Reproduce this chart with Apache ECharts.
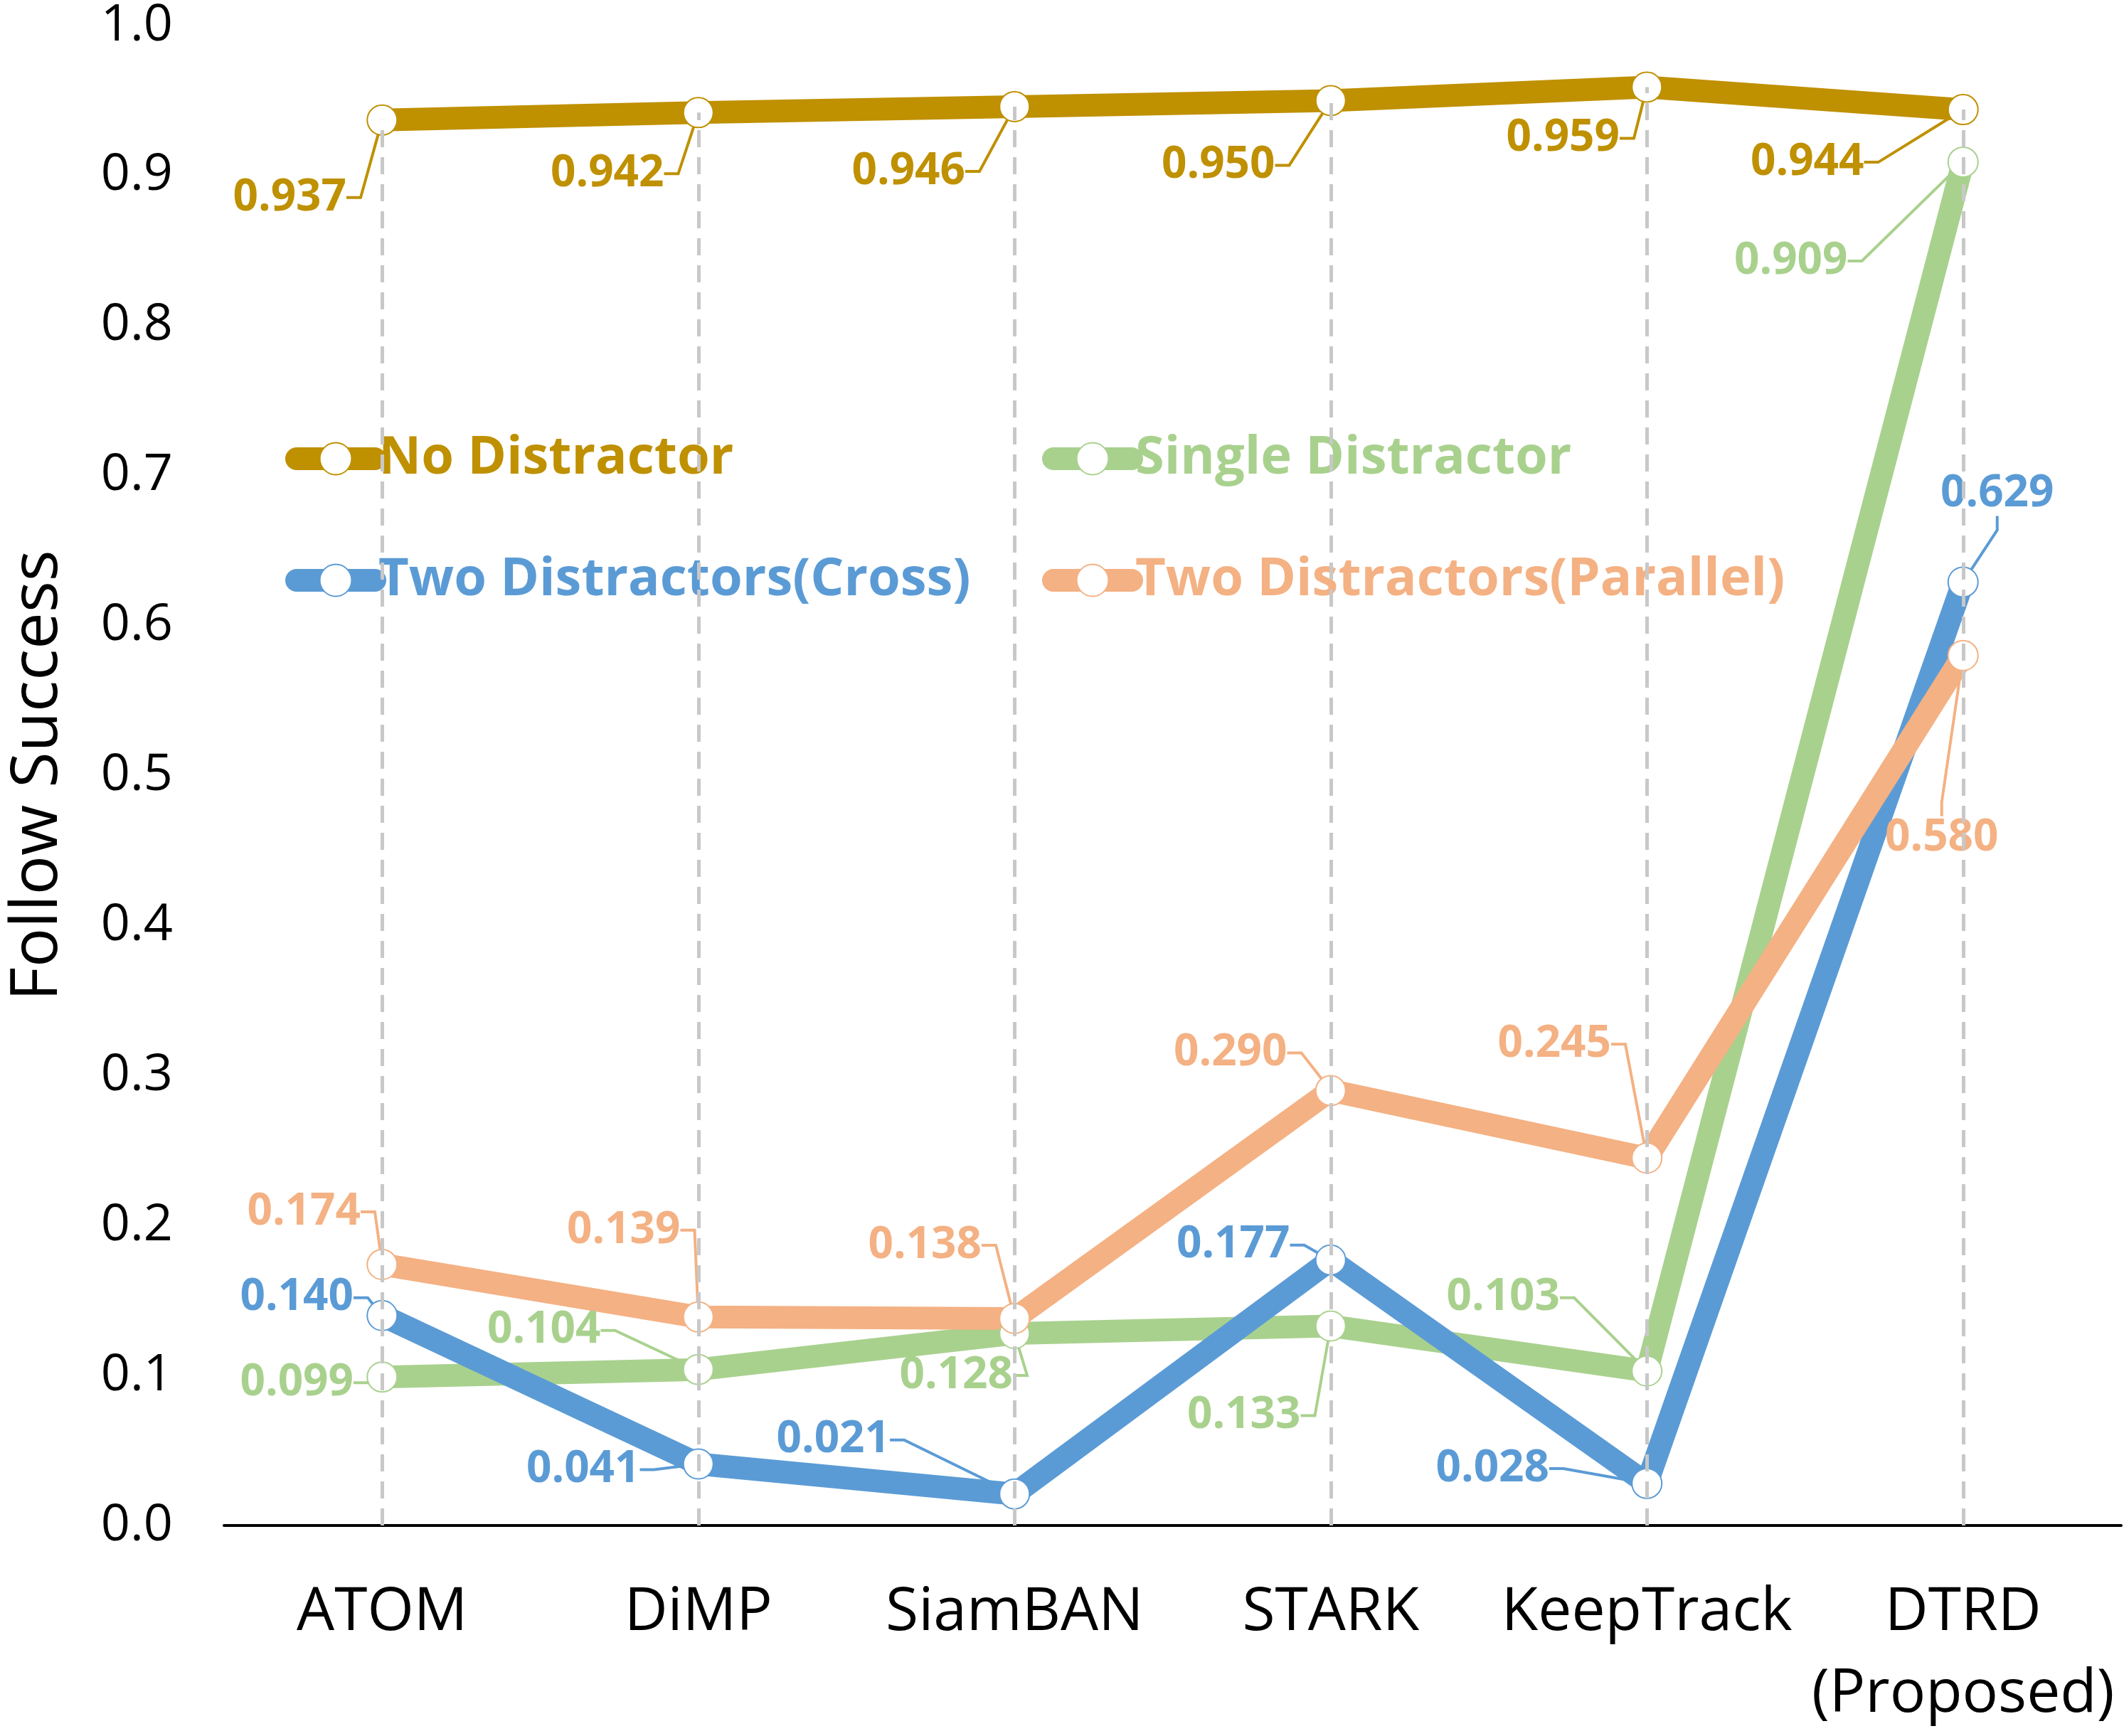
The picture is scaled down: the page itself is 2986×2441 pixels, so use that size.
<!DOCTYPE html>
<html>
<head>
<meta charset="utf-8">
<script src="https://cdn.jsdelivr.net/npm/echarts@6/dist/echarts.min.js"></script>
<style>
  html, body { margin: 0; padding: 0; background: #fff; }
  #main { width: 2986px; height: 2441px; }
</style>
</head>
<body>
<div id="main"></div>
<script>
var categories = ['ATOM', 'DiMP', 'SiamBAN', 'STARK', 'KeepTrack', 'DTRD\n(Proposed)'];
var seriesNames = ['No Distractor', 'Single Distractor', 'Two Distractors(Cross)', 'Two Distractors(Parallel)'];
var noDistractor = [0.937, 0.942, 0.946, 0.950, 0.959, 0.944];
var singleDistractor = [0.099, 0.104, 0.128, 0.133, 0.103, 0.909];
var twoCross = [0.140, 0.041, 0.021, 0.177, 0.028, 0.629];
var twoParallel = [0.174, 0.139, 0.138, 0.290, 0.245, 0.580];
var yTicks = [0, 0.1, 0.2, 0.3, 0.4, 0.5, 0.6, 0.7, 0.8, 0.9, 1.0];

var colors = ['#BF9000', '#A9D18E', '#5B9BD5', '#F4B183'];

// label offsets (px) from the point centre, per series
var labelOffsets = [
  [[-130, 109], [-128, 86], [-149, 91], [-158, 91], [-118, 72], [-219, 74]],
  [[-120, 8], [-217, -55], [-82, 59], [-122, 126], [-202, -103], [-242, 139]],
  [[-120, -25], [-162, 8], [-255, -76], [-137, -21], [-217, -21], [48, -124]],
  [[-110, -74], [-105, -122], [-126, -103], [-141, -53], [-130, -160], [-30, 257]]
];

var FONT = '"Open Sans", "Noto Sans", sans-serif';
var LINE_W = 32;

var chart = echarts.init(document.getElementById('main'), null, {renderer: 'canvas'});

function makeSeries(idx, values) {
  var offs = labelOffsets[idx];
  return {
    name: seriesNames[idx],
    type: 'line',
    data: values,
    z: 2,
    symbol: 'emptyCircle',
    symbolSize: 42,
    color: colors[idx],
    itemStyle: { color: colors[idx], borderWidth: 3 },
    lineStyle: { width: LINE_W, cap: 'round', join: 'round' },
    label: {
      show: true,
      position: 'inside',
      formatter: function (p) { return p.value.toFixed(3); },
      color: colors[idx],
      fontFamily: FONT,
      fontWeight: 'bold',
      fontSize: 62
    },
    labelLine: {
      show: true,
      length2: 20,
      lineStyle: { width: 4, color: colors[idx] }
    },
    labelLayout: function (params) {
      var o = offs[params.dataIndex];
      var r = params.rect;
      return {
        x: r.x + r.width / 2 + o[0],
        y: r.y + r.height / 2 + o[1],
        align: 'center',
        verticalAlign: 'middle'
      };
    },
    emphasis: { disabled: true }
  };
}

var dropLines = categories.map(function (c, i) {
  return [{ coord: [i, 0] }, { coord: [i, noDistractor[i]] }];
});

function legendItems(names) {
  return names.map(function (n) {
    return { name: n, textStyle: { color: colors[seriesNames.indexOf(n)] } };
  });
}

var legendBase = {
  orient: 'vertical',
  top: 590,
  itemWidth: 110,
  itemHeight: 56,
  itemGap: 71,
  lineStyle: { width: LINE_W, cap: 'round' },
  textStyle: { fontFamily: FONT, fontWeight: 'bold', fontSize: 74, lineHeight: 100 },
  selectedMode: false
};

var option = {
  animation: false,
  backgroundColor: '#fff',
  grid: { left: 300, right: 4, top: 34, bottom: 289 },
  legend: [
    Object.assign({}, legendBase, { left: 396, data: legendItems([seriesNames[0], seriesNames[2]]) }),
    Object.assign({}, legendBase, { left: 1460, data: legendItems([seriesNames[1], seriesNames[3]]) })
  ],
  xAxis: {
    type: 'category',
    data: categories,
    axisTick: { show: false },
    axisLine: { lineStyle: { color: '#000', width: 4 } },
    axisLabel: {
      color: '#000',
      fontFamily: FONT,
      fontSize: 84,
      lineHeight: 115,
      margin: 66,
      interval: 0
    },
    splitLine: { show: false }
  },
  yAxis: {
    type: 'value',
    min: yTicks[0],
    max: yTicks[yTicks.length - 1],
    interval: 0.1,
    name: 'Follow Success',
    nameLocation: 'middle',
    nameGap: 215,
    nameTextStyle: { color: '#000', fontFamily: FONT, fontSize: 92 },
    axisLine: { show: false },
    axisTick: { show: false },
    splitLine: { show: false },
    axisLabel: {
      color: '#000',
      fontFamily: FONT,
      fontSize: 72,
      margin: 72,
      formatter: function (v) { return v.toFixed(1); }
    }
  },
  series: [
    makeSeries(0, noDistractor),
    makeSeries(1, singleDistractor),
    makeSeries(2, twoCross),
    makeSeries(3, twoParallel),
    {
      name: 'drop',
      type: 'line',
      data: noDistractor,
      z: 3,
      symbol: 'none',
      silent: true,
      lineStyle: { opacity: 0 },
      markLine: {
        silent: true,
        symbol: 'none',
        label: { show: false },
        lineStyle: { color: '#C8C8C8', width: 5, type: [24, 14] },
        emphasis: { disabled: true },
        data: dropLines
      }
    }
  ]
};

chart.setOption(option);
</script>
</body>
</html>
